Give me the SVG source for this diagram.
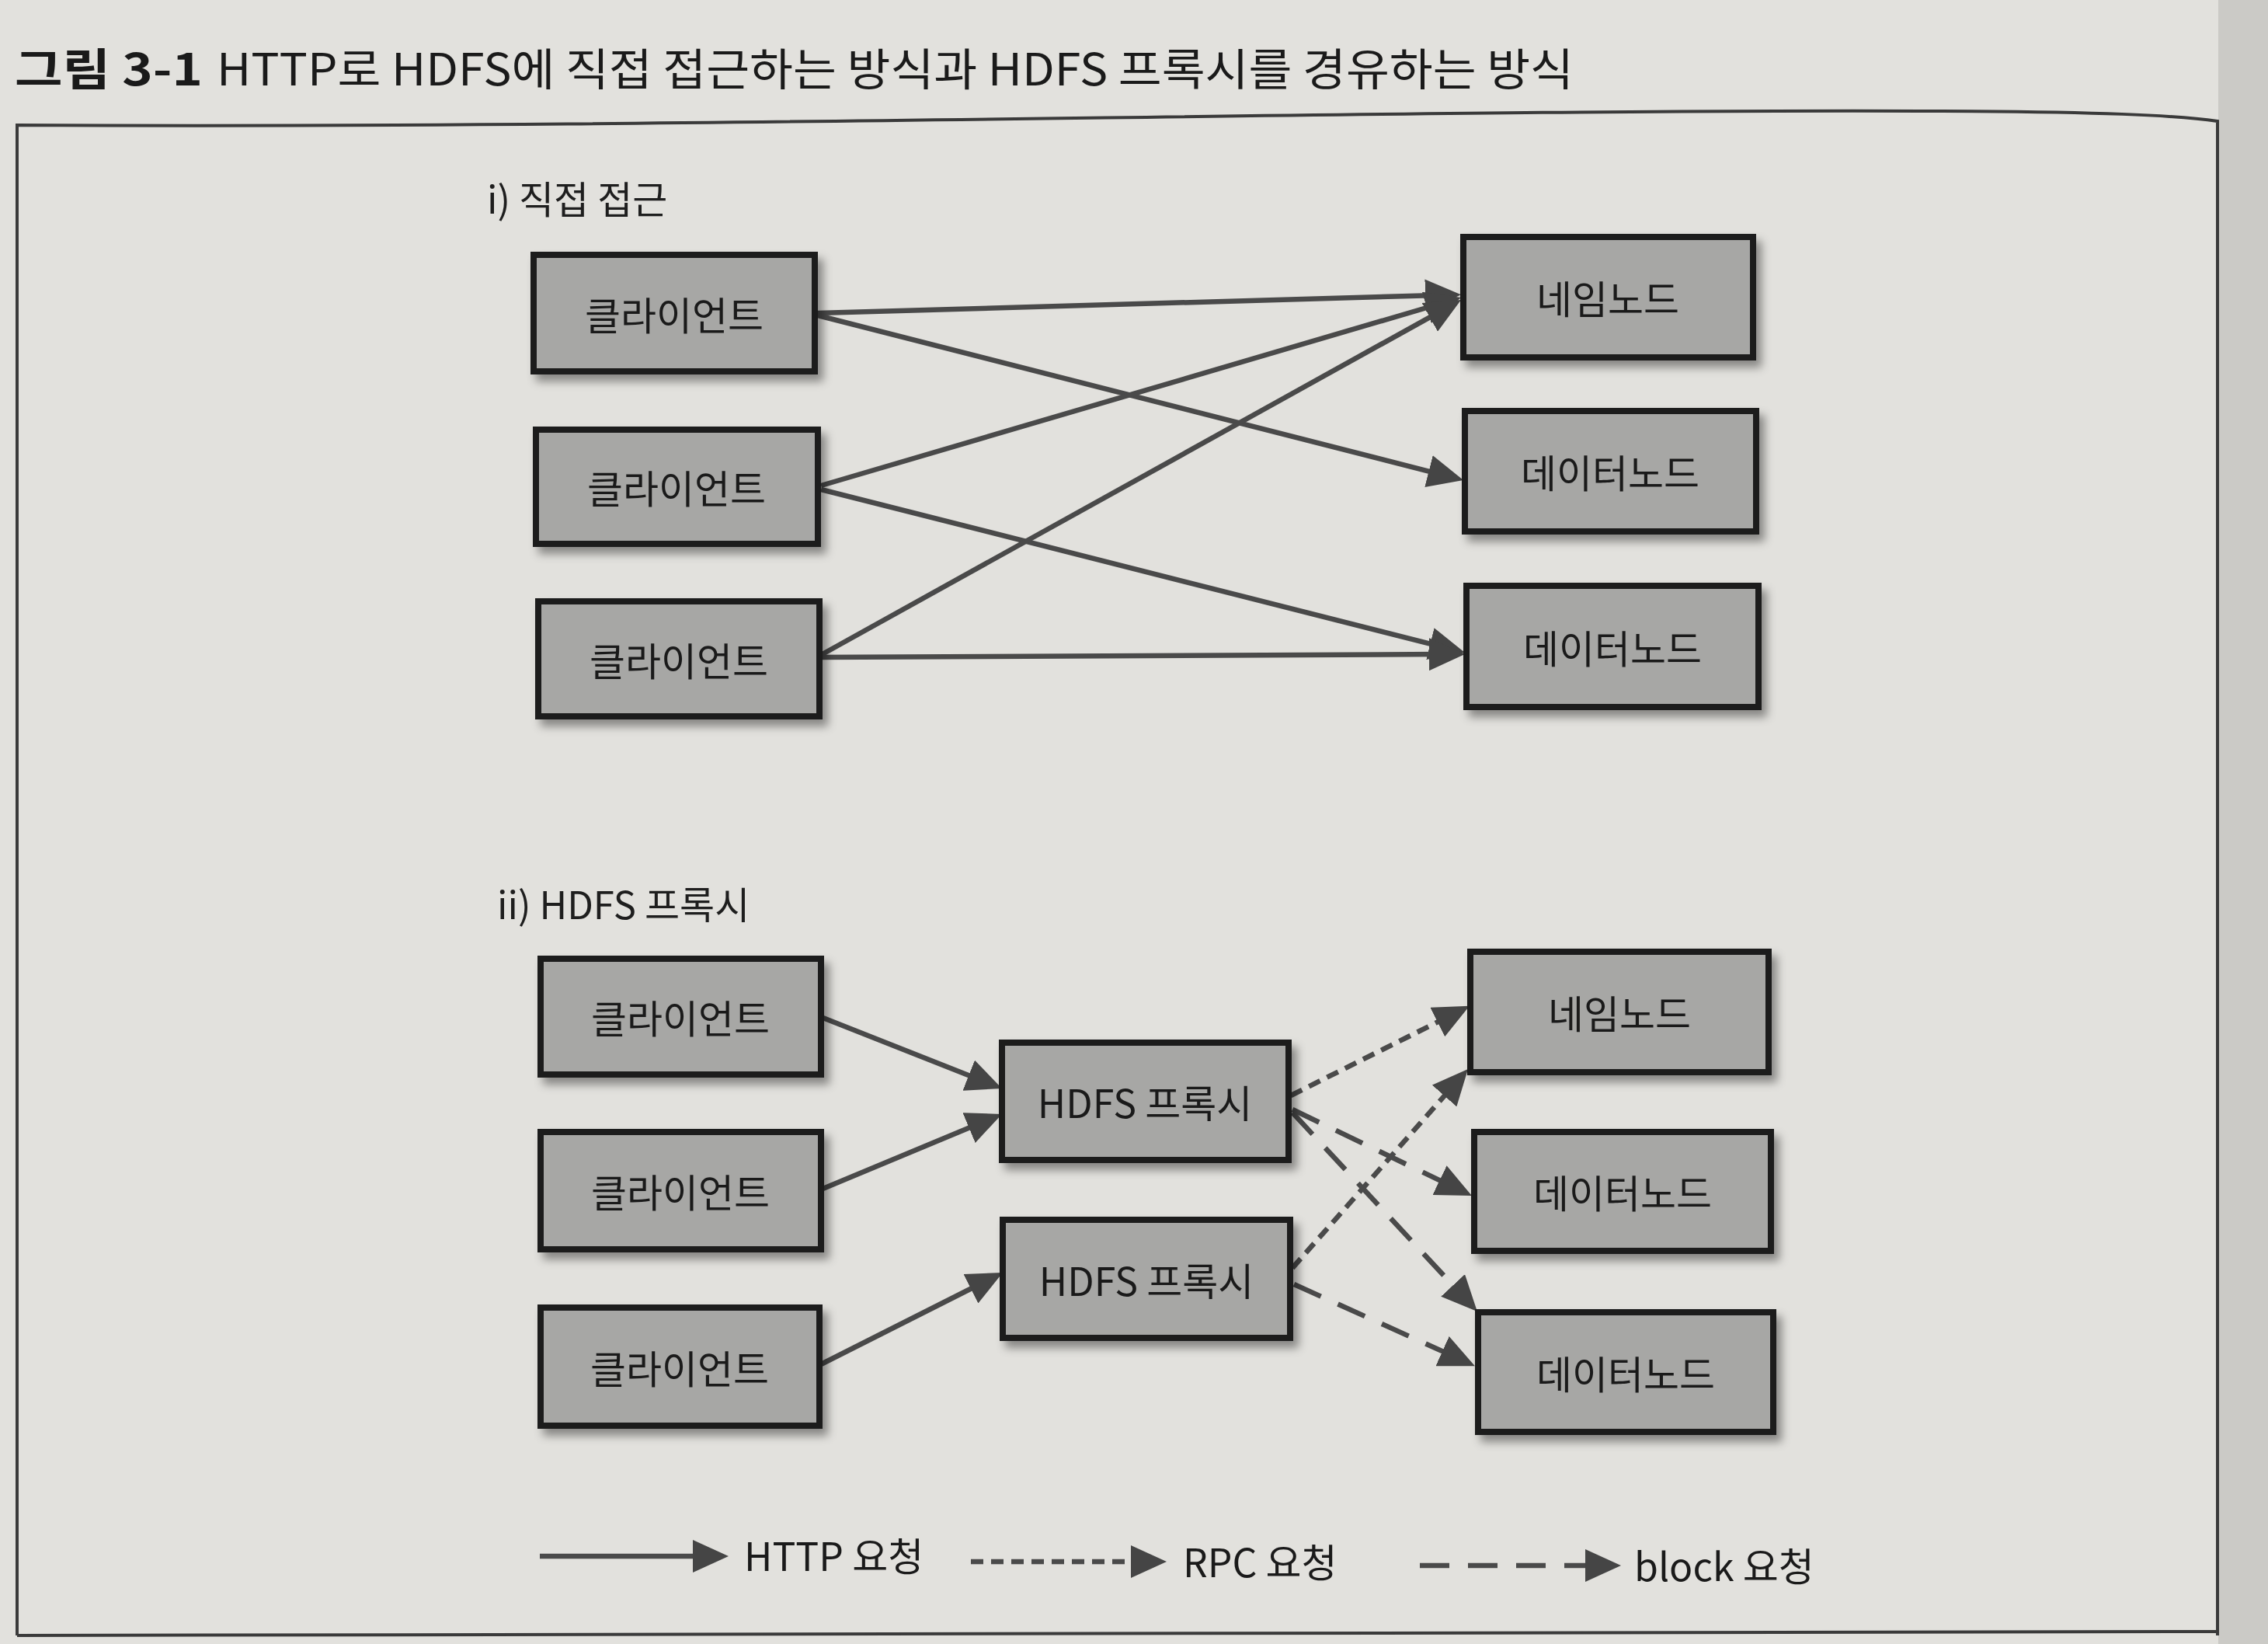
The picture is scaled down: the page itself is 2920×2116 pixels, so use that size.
<svg xmlns="http://www.w3.org/2000/svg" width="2920" height="2116" viewBox="0 0 2920 2116">
<style>
.bg{fill:#e2e1dd}
.box{fill:#a7a7a5;stroke:#1c1c1c;stroke-width:8;filter:url(#sh)}
.lbl{font-family:"Noto Sans CJK KR","Noto Sans",sans-serif;font-size:50px;fill:#1a1a1a;text-anchor:middle;dominant-baseline:central}
.sec{font-family:"Noto Sans CJK KR","Noto Sans",sans-serif;font-size:49px;fill:#1e1e1e}
.leg{font-family:"Noto Sans CJK KR","Noto Sans",sans-serif;font-size:50px;fill:#1a1a1a}
.ttl{font-family:"Noto Sans CJK KR","Noto Sans",sans-serif;font-size:57px;fill:#1a1a1a}
.c{stroke:#4a4a4a;stroke-width:6.5;fill:none;marker-end:url(#ah)}
.rpc{stroke-dasharray:16 10}
.blk{stroke-dasharray:38 24}
.frame{fill:none;stroke:#3a3a3a;stroke-width:4}
</style>
<defs>
<filter id="sh" x="-10%" y="-10%" width="125%" height="135%">
<feDropShadow dx="7" dy="9" stdDeviation="6" flood-color="#000" flood-opacity="0.4"/>
</filter>
<marker id="ah" markerUnits="userSpaceOnUse" viewBox="0 0 46 42" markerWidth="46" markerHeight="42" refX="16" refY="21" orient="auto">
<path d="M0,0 L46,21 L0,42 z" fill="#454545"/>
</marker>
</defs>
<rect class="bg" x="0" y="0" width="2920" height="2116"/>
<rect x="2856" y="0" width="64" height="2116" fill="#cbcac6"/>

<g id="title">
<text class="ttl" x="19" y="110" font-weight="700" textLength="242" lengthAdjust="spacingAndGlyphs">그림 3-1</text>
<text class="ttl" x="279" y="110" textLength="1747" lengthAdjust="spacingAndGlyphs">HTTP로 HDFS에 직접 접근하는 방식과 HDFS 프록시를 경유하는 방식</text>
</g>

<g id="frame">
<path class="frame" d="M22,2105 L22,161 C900,166 1800,140 2500,143 C2700,144 2800,148 2855,156 L2855,2105"/>
<path class="frame" d="M22,2105 L2855,2100"/>
</g>

<g id="section-labels">
<text class="sec" x="627" y="275">i) 직접 접근</text>
<text class="sec" x="640" y="1183">ii) HDFS 프록시</text>
</g>

<g id="connectors">
<line class="c" x1="1053" y1="403" x2="1851" y2="380"/>
<line class="c" x1="1053" y1="406" x2="1855" y2="610.6"/>
<line class="c" x1="1057" y1="625" x2="1852.2" y2="391.5"/>
<line class="c" x1="1057" y1="630" x2="1856.9" y2="832.6"/>
<line class="c" x1="1057" y1="843" x2="1854.8" y2="400.6"/>
<line class="c" x1="1057" y1="846" x2="1856" y2="842.1"/>

<line class="c" x1="1057" y1="1309" x2="1262.1" y2="1390"/>
<line class="c" x1="1057" y1="1531" x2="1262.3" y2="1445.5"/>
<line class="c" x1="1057" y1="1756" x2="1264.2" y2="1651.5"/>

<line class="c rpc" x1="1662" y1="1410" x2="1865.1" y2="1308.3"/>
<line class="c rpc" x1="1664" y1="1632" x2="1870.2" y2="1398.5"/>
<line class="c blk" x1="1664" y1="1428" x2="1867.9" y2="1526.1"/>
<line class="c blk" x1="1664" y1="1432" x2="1881.5" y2="1666.1"/>
<line class="c blk" x1="1666" y1="1653" x2="1871.6" y2="1745.8"/>
</g>

<g id="client-1"><rect class="box" x="687" y="328" width="362" height="150"/><text class="lbl" x="868" y="403">클라이언트</text></g>
<g id="client-2"><rect class="box" x="690" y="553" width="363" height="147"/><text class="lbl" x="871" y="626">클라이언트</text></g>
<g id="client-3"><rect class="box" x="693" y="774" width="362" height="148"/><text class="lbl" x="874" y="848">클라이언트</text></g>
<g id="namenode-1"><rect class="box" x="1884" y="305" width="373" height="155"/><text class="lbl" x="2070" y="382">네임노드</text></g>
<g id="datanode-1"><rect class="box" x="1886" y="529" width="375" height="155"/><text class="lbl" x="2073" y="606">데이터노드</text></g>
<g id="datanode-2"><rect class="box" x="1888" y="754" width="376" height="156"/><text class="lbl" x="2076" y="832">데이터노드</text></g>

<g id="client-4"><rect class="box" x="696" y="1234" width="361" height="149"/><text class="lbl" x="876" y="1308">클라이언트</text></g>
<g id="client-5"><rect class="box" x="696" y="1457" width="361" height="151"/><text class="lbl" x="876" y="1532">클라이언트</text></g>
<g id="client-6"><rect class="box" x="696" y="1683" width="359" height="152"/><text class="lbl" x="875" y="1759">클라이언트</text></g>
<g id="proxy-1"><rect class="box" x="1290" y="1342" width="369" height="151"/><text class="lbl" x="1474" y="1417">HDFS 프록시</text></g>
<g id="proxy-2"><rect class="box" x="1291" y="1570" width="370" height="152"/><text class="lbl" x="1476" y="1646">HDFS 프록시</text></g>
<g id="namenode-2"><rect class="box" x="1893" y="1225" width="384" height="155"/><text class="lbl" x="2085" y="1302">네임노드</text></g>
<g id="datanode-3"><rect class="box" x="1898" y="1457" width="382" height="153"/><text class="lbl" x="2089" y="1533">데이터노드</text></g>
<g id="datanode-4"><rect class="box" x="1903" y="1689" width="380" height="154"/><text class="lbl" x="2093" y="1766">데이터노드</text></g>

<g id="legend">
<line class="c" x1="695" y1="2003" x2="908" y2="2003"/>
<text class="leg" x="958" y="2022">HTTP 요청</text>
<line class="c rpc" x1="1250" y1="2010" x2="1472" y2="2010"/>
<text class="leg" x="1523" y="2030">RPC 요청</text>
<line class="c blk" x1="1828" y1="2015" x2="2057" y2="2015"/>
<text class="leg" x="2104" y="2035">block 요청</text>
</g>
</svg>
